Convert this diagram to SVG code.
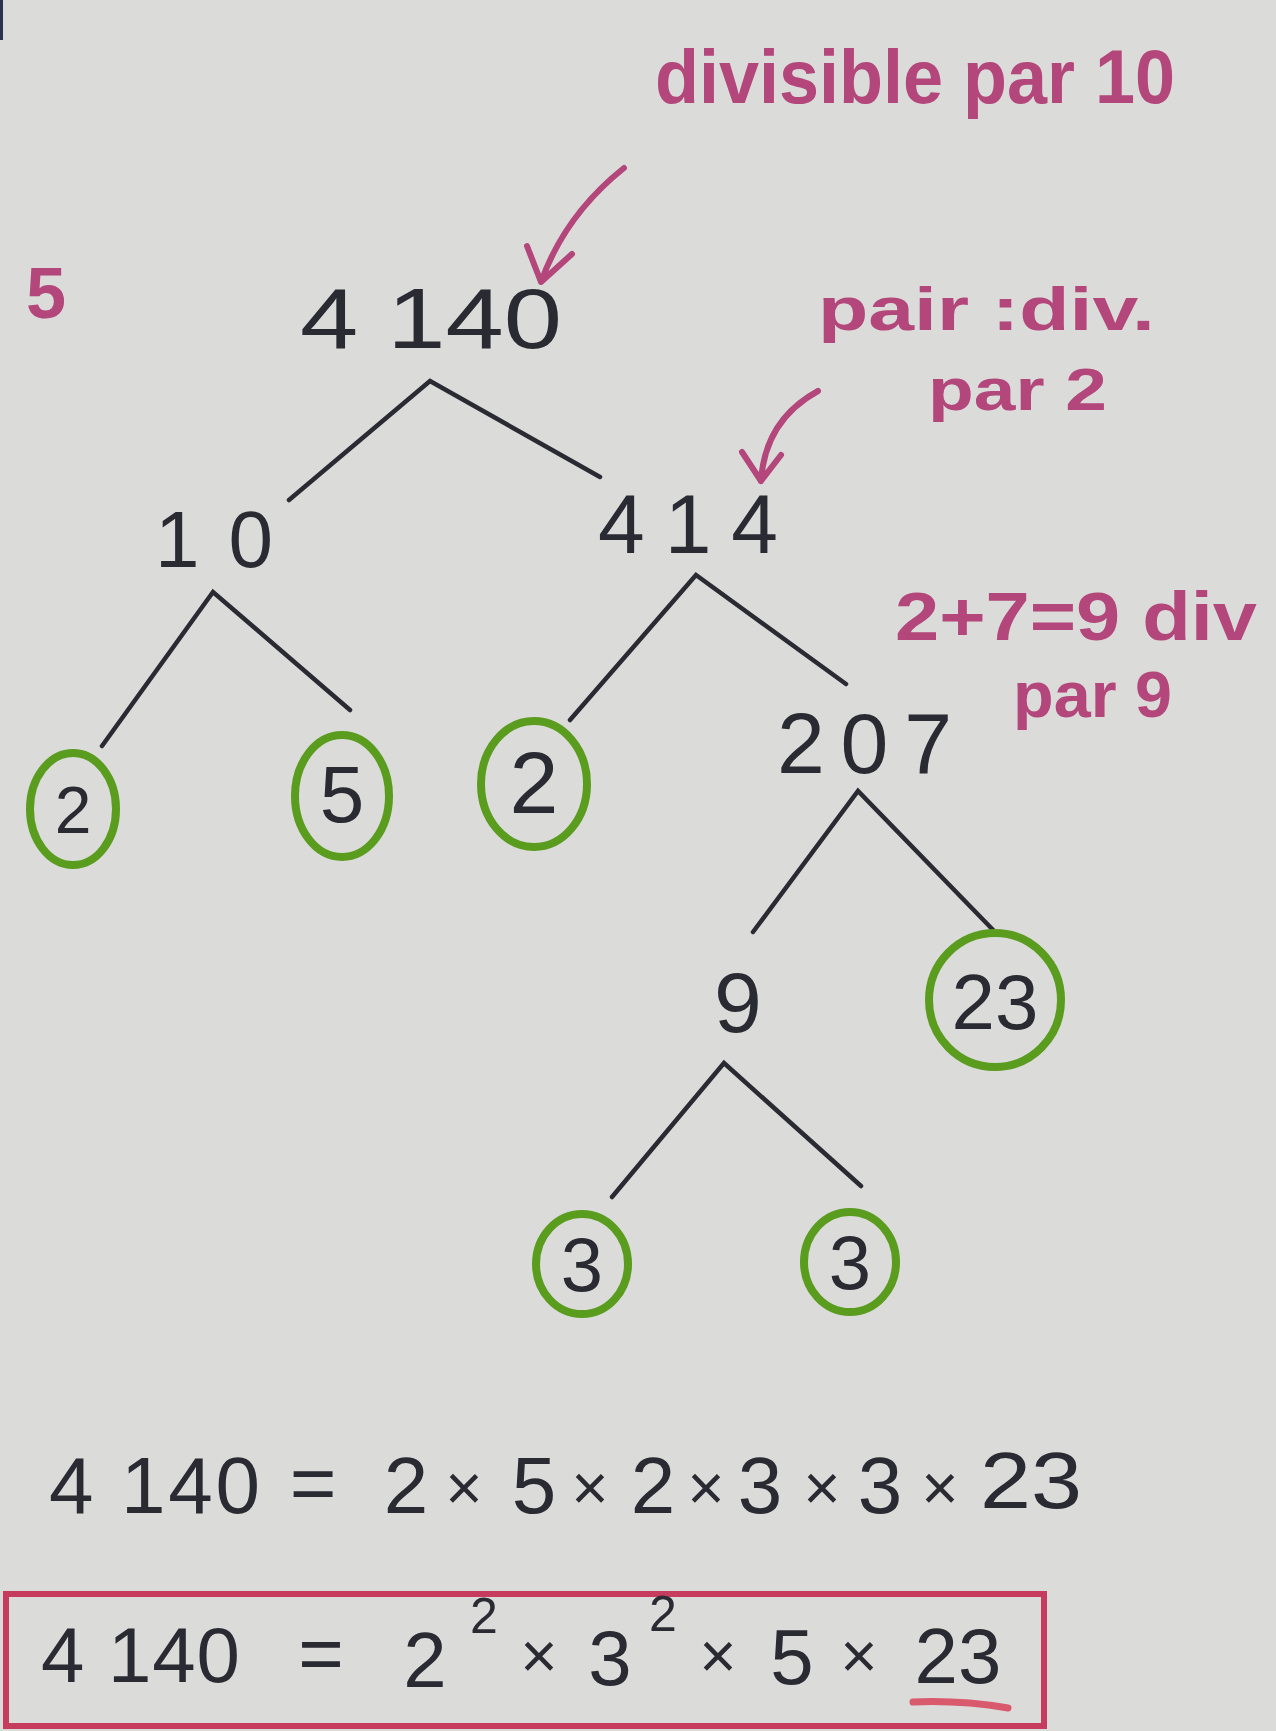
<svg xmlns="http://www.w3.org/2000/svg" width="1276" height="1731" viewBox="0 0 1276 1731">
<defs>
<style>
.num{font-family:"Liberation Sans",Arial,sans-serif;fill:#2a2a33}
.note{font-family:"Liberation Sans",Arial,sans-serif;fill:#b3467a;font-weight:bold}
.edge{stroke:#2a2a33;stroke-width:4.5;stroke-linecap:round;fill:none}
.prime{fill:none;stroke:#5a9c1e;stroke-width:8}
.arrow{fill:none;stroke:#b3467a;stroke-width:6;stroke-linecap:round;stroke-linejoin:round}
</style>
</defs>
<rect width="1276" height="1731" fill="#dbdbd9"/>
<rect x="0" y="0" width="3" height="40" fill="#2a3350"/>

<text class="note" x="26" y="318" font-size="72">5</text>

<g id="annotations">
<text class="note" x="655" y="103" font-size="76" textLength="520" lengthAdjust="spacingAndGlyphs">divisible par 10</text>
<path class="arrow" d="M624,168 Q565,215 541,282 M527,246 L541,282 L572,254"/>
<text class="note" x="818" y="330" font-size="62" textLength="337" lengthAdjust="spacingAndGlyphs">pair :div.</text>
<text class="note" x="928" y="410" font-size="60" textLength="179" lengthAdjust="spacingAndGlyphs">par 2</text>
<path class="arrow" d="M818,391 Q765,420 761,481 M742,452 L761,481 L781,455"/>
<text class="note" x="895" y="640" font-size="68" textLength="362" lengthAdjust="spacingAndGlyphs">2+7=9 div</text>
<text class="note" x="1013" y="717" font-size="64" textLength="159" lengthAdjust="spacingAndGlyphs">par 9</text>
</g>

<g id="connectors">
<path class="edge" d="M289,500 L430,381 L600,477"/>
<path class="edge" d="M102,746 L213,592 L350,710"/>
<path class="edge" d="M570,720 L696,575 L846,684"/>
<path class="edge" d="M753,932 L858,791 L997,934"/>
<path class="edge" d="M612,1197 L724,1063 L861,1186"/>
</g>

<g id="n4140"><text class="num" x="300" y="348" font-size="86" textLength="262" lengthAdjust="spacingAndGlyphs">4 140</text></g>
<g id="n10"><text class="num" x="155" y="567" font-size="80" textLength="118" lengthAdjust="spacing">10</text></g>
<g id="n414"><text class="num" x="598" y="553" font-size="84" textLength="180" lengthAdjust="spacing">414</text></g>
<g id="n2a"><ellipse class="prime" cx="73" cy="809" rx="43" ry="56"/><text class="num" x="73" y="833" font-size="66" text-anchor="middle">2</text></g>
<g id="n5"><ellipse class="prime" cx="342" cy="796" rx="47" ry="61"/><text class="num" x="342" y="822" font-size="80" text-anchor="middle">5</text></g>
<g id="n2b"><ellipse class="prime" cx="534" cy="784" rx="53" ry="63"/><text class="num" x="534" y="813" font-size="88" text-anchor="middle">2</text></g>
<g id="n207"><text class="num" x="777" y="773" font-size="86" textLength="175" lengthAdjust="spacing">207</text></g>
<g id="n9"><text class="num" x="738" y="1032" font-size="86" text-anchor="middle">9</text></g>
<g id="n23"><ellipse class="prime" cx="995" cy="1000" rx="66" ry="67"/><text class="num" x="995" y="1029" font-size="78" text-anchor="middle">23</text></g>
<g id="n3a"><ellipse class="prime" cx="582" cy="1264" rx="46" ry="50"/><text class="num" x="582" y="1291" font-size="76" text-anchor="middle">3</text></g>
<g id="n3b"><ellipse class="prime" cx="850" cy="1262" rx="46" ry="50"/><text class="num" x="850" y="1289" font-size="76" text-anchor="middle">3</text></g>

<g id="equation1" font-size="80">
<text class="num" x="49" y="1513" textLength="211" lengthAdjust="spacing">4 140</text>
<text class="num" x="313" y="1510" text-anchor="middle">=</text>
<text class="num" x="406" y="1513" text-anchor="middle">2</text>
<text class="num" x="464" y="1510" font-size="64" text-anchor="middle">×</text>
<text class="num" x="534" y="1513" text-anchor="middle">5</text>
<text class="num" x="590" y="1510" font-size="64" text-anchor="middle">×</text>
<text class="num" x="653" y="1513" text-anchor="middle">2</text>
<text class="num" x="706" y="1510" font-size="64" text-anchor="middle">×</text>
<text class="num" x="760" y="1513" text-anchor="middle">3</text>
<text class="num" x="822" y="1510" font-size="64" text-anchor="middle">×</text>
<text class="num" x="880" y="1513" text-anchor="middle">3</text>
<text class="num" x="940" y="1510" font-size="64" text-anchor="middle">×</text>
<text class="num" x="980" y="1508" textLength="102" lengthAdjust="spacingAndGlyphs">23</text>
</g>

<g id="equation2" font-size="78">
<rect x="6" y="1594" width="1038" height="132" fill="none" stroke="#c63c5e" stroke-width="6"/>
<text class="num" x="41" y="1682" textLength="199" lengthAdjust="spacing">4 140</text>
<text class="num" x="321" y="1680" text-anchor="middle">=</text>
<text class="num" x="425" y="1687" text-anchor="middle">2</text>
<text class="num" x="484" y="1633" font-size="50" text-anchor="middle">2</text>
<text class="num" x="539" y="1678" font-size="64" text-anchor="middle">×</text>
<text class="num" x="610" y="1685" text-anchor="middle">3</text>
<text class="num" x="663" y="1631" font-size="50" text-anchor="middle">2</text>
<text class="num" x="718" y="1678" font-size="64" text-anchor="middle">×</text>
<text class="num" x="792" y="1684" text-anchor="middle">5</text>
<text class="num" x="859" y="1678" font-size="64" text-anchor="middle">×</text>
<text class="num" x="958" y="1683" text-anchor="middle">23</text>
<path d="M913,1702 Q960,1700 1008,1708" fill="none" stroke="#d85a6c" stroke-width="7" stroke-linecap="round"/>
</g>
</svg>
